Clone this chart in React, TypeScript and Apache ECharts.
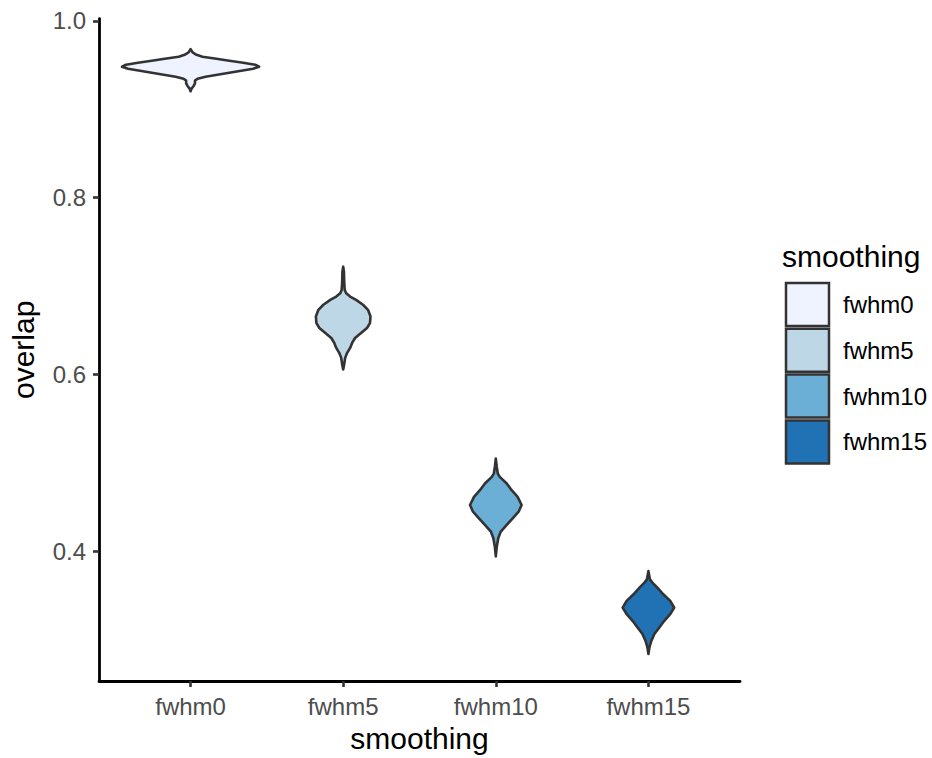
import React, { useEffect, useRef } from "react";
import * as echarts from "echarts";

const categories = ["fwhm0", "fwhm5", "fwhm10", "fwhm15"];
const colors = ["#EFF3FF", "#BDD7E7", "#6BAED6", "#2171B5"];
const yTicks = [0.4, 0.6, 0.8, 1.0];

// violin outlines: overlap values and half-widths (in category units)
const fwhm0Values = [0.9681, 0.9644, 0.9617, 0.9595, 0.9572, 0.955, 0.9527, 0.9505, 0.9482, 0.946, 0.9437, 0.9415, 0.9392, 0.937, 0.9347, 0.9325, 0.9295, 0.9265, 0.9235, 0.9205];
const fwhm0Widths = [0, 0.013, 0.039, 0.078, 0.169, 0.254, 0.345, 0.423, 0.449, 0.41, 0.332, 0.254, 0.176, 0.098, 0.046, 0.029, 0.029, 0.02, 0.0065, 0];

const fwhm5Values = [0.722, 0.7164, 0.7051, 0.6957, 0.692, 0.6882, 0.6845, 0.6789, 0.6732, 0.6657, 0.6582, 0.6526, 0.647, 0.6413, 0.6357, 0.6301, 0.6245, 0.6188, 0.6113, 0.6057];
const fwhm5Widths = [0, 0.005, 0.0065, 0.01, 0.0195, 0.0455, 0.0845, 0.13, 0.1625, 0.179, 0.1755, 0.156, 0.117, 0.078, 0.0585, 0.0455, 0.026, 0.013, 0.0065, 0];

const fwhm10Values = [0.5048, 0.4954, 0.4879, 0.4842, 0.4767, 0.4691, 0.4616, 0.4523, 0.4448, 0.4373, 0.4298, 0.4223, 0.4147, 0.4054, 0.3941];
const fwhm10Widths = [0, 0.0065, 0.013, 0.026, 0.0715, 0.104, 0.143, 0.169, 0.1495, 0.1105, 0.0715, 0.0325, 0.016, 0.0065, 0];

const fwhm15Values = [0.3776, 0.3682, 0.3645, 0.3588, 0.3513, 0.3438, 0.3363, 0.3288, 0.3213, 0.3138, 0.3063, 0.2988, 0.2913, 0.2838];
const fwhm15Widths = [0, 0.01, 0.026, 0.0585, 0.0975, 0.143, 0.169, 0.143, 0.104, 0.0715, 0.039, 0.0195, 0.0065, 0];

const violinValues = [fwhm0Values, fwhm5Values, fwhm10Values, fwhm15Values];
const violinWidths = [fwhm0Widths, fwhm5Widths, fwhm10Widths, fwhm15Widths];

const FONT = "'Liberation Sans', Arial, Helvetica, sans-serif";

export default function App() {
  const ref = useRef<HTMLDivElement>(null);
  useEffect(() => {
    if (!ref.current) return;
    const chart = echarts.init(ref.current, undefined, { renderer: "svg" });
    const legendGraphics: any[] = [
      {
        type: "text",
        x: 782,
        y: 256,
        style: { text: "smoothing", fontSize: 30, fill: "#000", fontFamily: FONT, verticalAlign: "middle", align: "left" },
      },
    ];
    categories.forEach((c, i) => {
      const y = 283 + i * 45.8;
      legendGraphics.push({
        type: "rect",
        shape: { x: 786, y, width: 43, height: 43 },
        style: { fill: colors[i], stroke: "#333333", lineWidth: 2.5 },
      });
      legendGraphics.push({
        type: "text",
        x: 843,
        y: y + 21.5,
        style: { text: c, fontSize: 24, fill: "#000", fontFamily: FONT, verticalAlign: "middle", align: "left" },
      });
    });

    chart.setOption({
      animation: false,
      backgroundColor: "#fff",
      textStyle: { fontFamily: FONT },
      grid: { left: 94, right: 192, top: 18.6, bottom: 73, containLabel: false },
      xAxis: {
        type: "value",
        min: -0.6,
        max: 3.6,
        name: "smoothing",
        nameLocation: "middle",
        nameGap: 42,
        nameTextStyle: { fontSize: 30, color: "#000", fontFamily: FONT },
        axisLine: { show: true, onZero: false, lineStyle: { color: "#000", width: 2.8 } },
        axisTick: { show: true, length: 6, customValues: [0, 1, 2, 3], lineStyle: { color: "#333", width: 2.6 } },
        axisLabel: {
          customValues: [0, 1, 2, 3],
          formatter: (v: number) => categories[Math.round(v)] ?? "",
          fontSize: 24,
          color: "#4D4D4D",
          margin: 13,
          fontFamily: FONT,
        },
        splitLine: { show: false },
      },
      yAxis: {
        type: "value",
        min: 0.2532,
        max: 1.0027,
        name: "overlap",
        nameLocation: "middle",
        nameGap: 61,
        nameTextStyle: { fontSize: 30, color: "#000", fontFamily: FONT },
        axisLine: { show: true, onZero: false, lineStyle: { color: "#000", width: 2.8 } },
        axisTick: { show: true, length: 6, customValues: yTicks, lineStyle: { color: "#333", width: 2.6 } },
        axisLabel: {
          customValues: yTicks,
          formatter: (v: number) => v.toFixed(1),
          fontSize: 24,
          color: "#4D4D4D",
          margin: 13,
          fontFamily: FONT,
        },
        splitLine: { show: false },
      },
      series: [
        {
          type: "custom",
          data: categories.map((_, i) => [i, violinValues[i][0]]),
          renderItem: (params: any, api: any) => {
            const i = params.dataIndex;
            const vals = violinValues[i];
            const w = violinWidths[i];
            const unit = api.size([1, 0])[0];
            const right: number[][] = [];
            const left: number[][] = [];
            for (let k = 0; k < vals.length; k++) {
              const c = api.coord([i, vals[k]]);
              right.push([c[0] + w[k] * unit, c[1]]);
              left.push([c[0] - w[k] * unit, c[1]]);
            }
            return {
              type: "polygon",
              shape: { points: right.concat(left.reverse()) },
              style: { fill: colors[i], stroke: "#333333", lineWidth: 2.6, lineJoin: "round" },
            };
          },
        },
      ],
      graphic: legendGraphics,
    });
    return () => chart.dispose();
  }, []);
  return <div ref={ref} style={{ position: "fixed", left: 0, top: 0, width: 932, height: 758 }} />;
}
